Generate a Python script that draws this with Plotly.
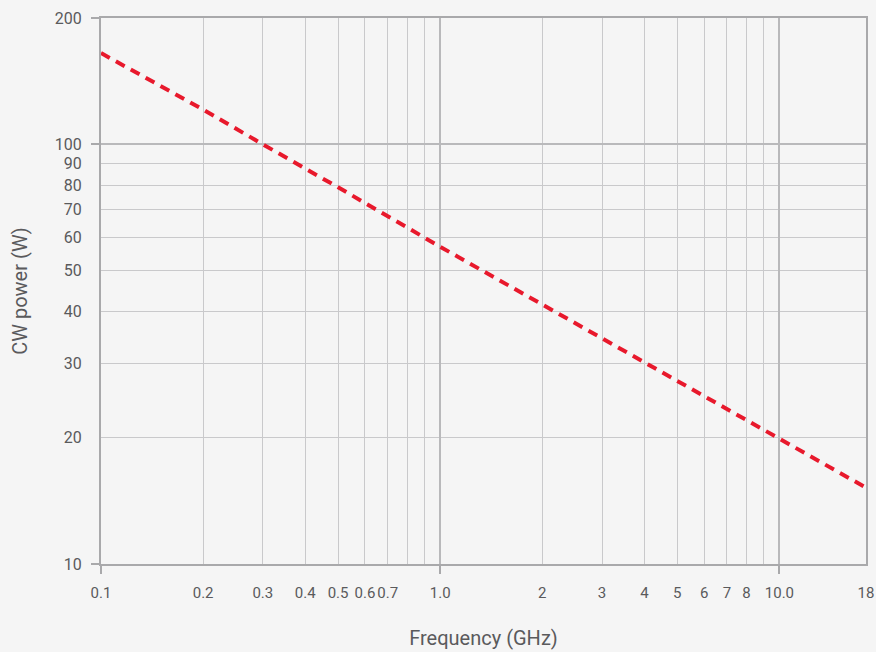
import plotly.graph_objects as go

# Data
freq_ghz = [0.1, 0.2, 0.3, 0.5, 1.0, 2.0, 4.0, 10.0, 18.0]
cw_power_w = [165, 121, 100, 79, 57, 41.5, 30.3, 19.8, 15.2]

x_tickvals = [0.1, 0.2, 0.3, 0.4, 0.5, 0.6, 0.7, 0.8, 0.9, 1.0,
              2, 3, 4, 5, 6, 7, 8, 9, 10, 18]
x_ticktext = ["0.1", "0.2", "0.3", "0.4", "0.5", "0.6", "0.7", "", "", "1.0",
              "2", "3", "4", "5", "6", "7", "8", "", "10.0", "18"]
x_major = [0.1, 1.0, 10.0]

y_tickvals = [10, 20, 30, 40, 50, 60, 70, 80, 90, 100, 200]
y_ticktext = ["10", "20", "30", "40", "50", "60", "70", "80", "90", "100", "200"]
y_major = [10, 100, 200]

FONT = "Roboto, sans-serif"
TXT = "#5a5a5c"
AX = "#a9a9ab"
GRID = "#c9c9cb"

fig = go.Figure()
# invisible trace to activate the overlay axes
fig.add_trace(go.Scatter(x=freq_ghz, y=cw_power_w, mode="lines",
                         line=dict(width=0), xaxis="x2", yaxis="y2",
                         showlegend=False, hoverinfo="skip"))
fig.add_trace(go.Scatter(
    x=freq_ghz, y=cw_power_w, mode="lines",
    line=dict(color="#e8192c", width=4, dash="10px,7px"),
    showlegend=False, hoverinfo="skip",
))

xr = [-1, 1.2553]
yr = [1, 2.30103]

fig.update_layout(
    width=876, height=652,
    margin=dict(l=101, r=10, t=18, b=88),
    paper_bgcolor="#f5f5f5", plot_bgcolor="#f5f5f5",
    font=dict(family=FONT, size=15, color=TXT),
    xaxis=dict(
        type="log", range=xr, tickvals=x_tickvals, ticktext=x_ticktext,
        ticks="", tickangle=0, showgrid=True, gridcolor=GRID, gridwidth=1,
        showline=True, linecolor=AX, linewidth=2, mirror=True,
        zeroline=False, ticklabelstandoff=14, automargin=False,
        tickfont=dict(size=15),
        title=dict(text="Frequency (GHz)", font=dict(size=20, color=TXT), standoff=30),
    ),
    yaxis=dict(
        type="log", range=yr, tickvals=y_tickvals, ticktext=y_ticktext,
        ticks="", tickangle=0, showgrid=True, gridcolor=GRID, gridwidth=1,
        showline=True, linecolor=AX, linewidth=2, mirror=True,
        zeroline=False, ticklabelstandoff=14, automargin=False,
        tickfont=dict(size=16),
        title=dict(text="CW power (W)", font=dict(size=20, color=TXT), standoff=22),
    ),
    xaxis2=dict(
        type="log", range=xr, overlaying="x", anchor="y",
        tickvals=x_major, showticklabels=False, ticks="outside",
        ticklen=9, tickwidth=2, tickcolor=AX, automargin=False,
        showgrid=True, gridcolor="#b9b9bb", gridwidth=2, showline=False,
    ),
    yaxis2=dict(
        type="log", range=yr, overlaying="y", anchor="x",
        tickvals=y_major, showticklabels=False, ticks="outside",
        ticklen=9, tickwidth=2, tickcolor=AX, automargin=False,
        showgrid=True, gridcolor="#b9b9bb", gridwidth=2, showline=False,
    ),
)

fig.write_html(
    "out.html",
    config={"displayModeBar": False},
    post_script="document.body.style.margin='0';document.body.style.overflow='hidden';document.body.style.background='#f5f5f5';",
)
